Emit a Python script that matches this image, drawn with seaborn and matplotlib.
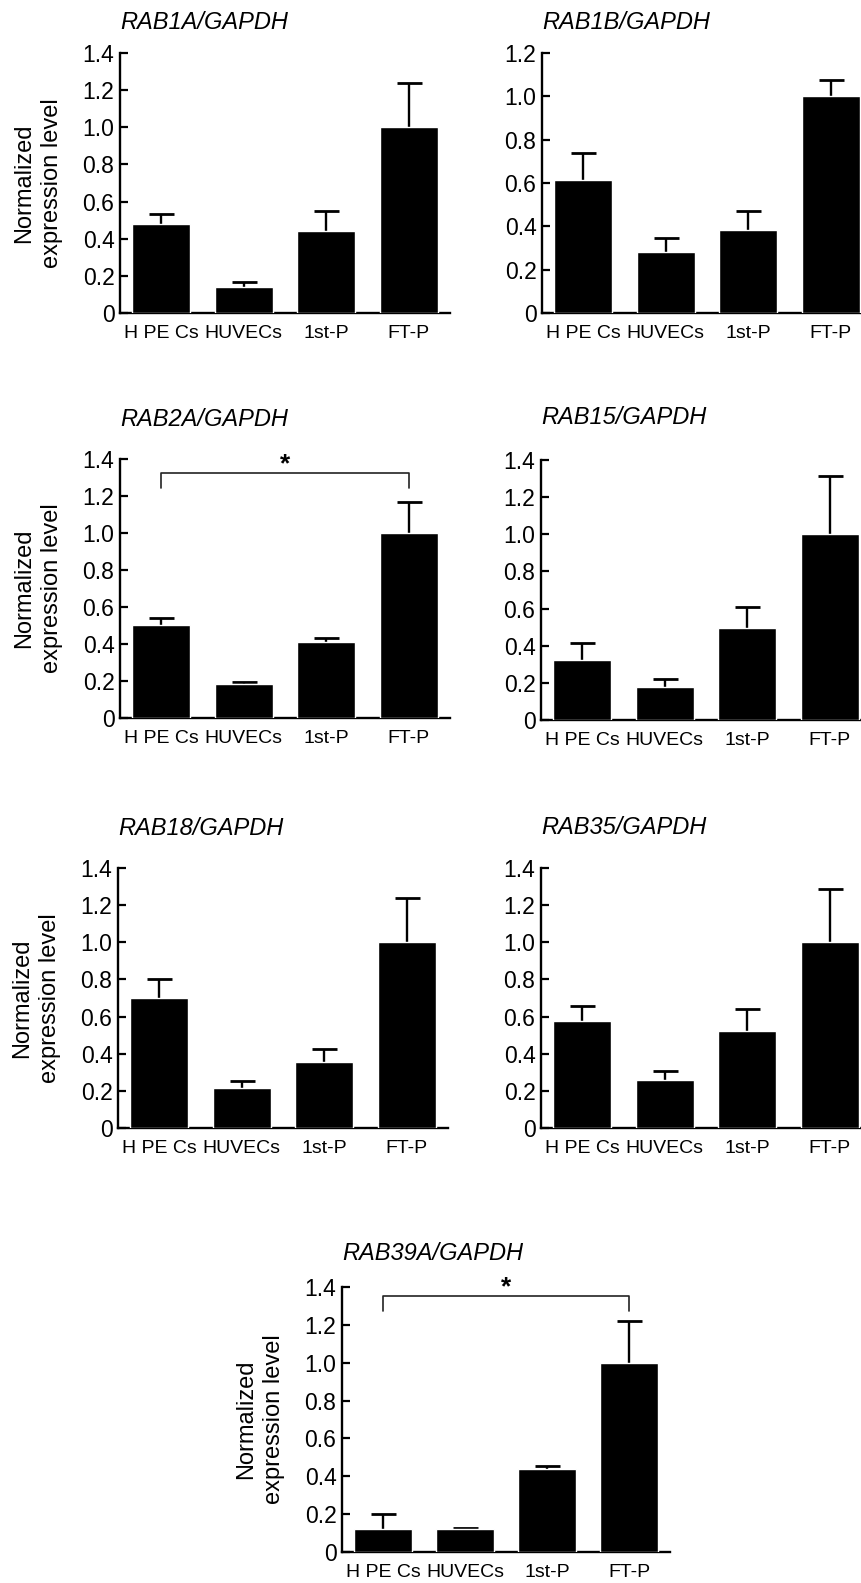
import numpy as np
import pandas as pd
import matplotlib
matplotlib.use("Agg")
import matplotlib.pyplot as plt
from matplotlib import font_manager
import seaborn as sns

# ---------------- data ----------------
cells = ["H PE Cs", "HUVECs", "1st-P", "FT-P"]

titles = ["RAB1A/GAPDH", "RAB1B/GAPDH", "RAB2A/GAPDH", "RAB15/GAPDH",
          "RAB18/GAPDH", "RAB35/GAPDH", "RAB39A/GAPDH"]

rab1a_mean = [0.48, 0.14, 0.44, 1.00]
rab1a_err = [0.055, 0.025, 0.11, 0.24]
rab1b_mean = [0.615, 0.28, 0.385, 1.00]
rab1b_err = [0.125, 0.065, 0.085, 0.075]
rab2a_mean = [0.505, 0.186, 0.41, 1.00]
rab2a_err = [0.035, 0.010, 0.020, 0.17]
rab15_mean = [0.325, 0.18, 0.495, 1.00]
rab15_err = [0.09, 0.04, 0.115, 0.315]
rab18_mean = [0.70, 0.213, 0.355, 1.00]
rab18_err = [0.10, 0.042, 0.07, 0.24]
rab35_mean = [0.575, 0.258, 0.525, 1.00]
rab35_err = [0.08, 0.049, 0.115, 0.287]
rab39a_mean = [0.12, 0.12, 0.438, 1.00]
rab39a_err = [0.083, 0.009, 0.017, 0.222]

y_max = [1.4, 1.2, 1.4, 1.4, 1.4, 1.4, 1.4]
show_ylabel = [True, False, True, False, True, False, True]
# significance brackets: (panel index, from category, to category, label)
sig = [(2, 0, 3, "*"), (6, 0, 3, "*")]

means = [rab1a_mean, rab1b_mean, rab2a_mean, rab15_mean, rab18_mean, rab35_mean, rab39a_mean]
errs = [rab1a_err, rab1b_err, rab2a_err, rab15_err, rab18_err, rab35_err, rab39a_err]

# ---------------- layout (pixels) ----------------
W, H = 861, 1583
boxes = [(120, 450, 53, 313), (542, 872, 53, 313),
         (120, 450, 459, 718), (541, 871, 460, 720),
         (118, 448, 868, 1128), (541, 871, 868, 1128),
         (342, 670, 1287, 1552)]
title_off = [31, 31, 39, 42, 40, 41, 34]  # px above axes top (title centre)

sns.set_style("ticks")
names = {f.name for f in font_manager.fontManager.ttflist}
narrow = "Liberation Sans Narrow" in names
plt.rcParams["font.family"] = ["Liberation Sans", "DejaVu Sans"]
for k in ["text.color", "axes.labelcolor", "xtick.color", "ytick.color", "axes.edgecolor"]:
    plt.rcParams[k] = "black"
xfont = ["Liberation Sans Narrow", "Liberation Sans"] if narrow else ["Liberation Sans"]
xsize = 16.5 if narrow else 14.0

fig = plt.figure(figsize=(W / 100, H / 100), dpi=100)

for i in range(7):
    x0, x1, y0, y1 = boxes[i]
    ax = fig.add_axes([x0 / W, 1 - y1 / H, (x1 - x0) / W, (y1 - y0) / H])
    df = pd.DataFrame({"cell": cells, "value": means[i]})
    sns.barplot(data=df, x="cell", y="value", order=cells, color="black",
                saturation=1, width=0.70, errorbar=None, ax=ax, zorder=3)
    xs = np.arange(len(cells))
    _, caps, _ = ax.errorbar(xs, means[i], yerr=[np.zeros(len(cells)), errs[i]],
                             fmt="none", ecolor="black", elinewidth=1.7, capsize=9,
                             capthick=2.0, zorder=2, clip_on=False)
    caps[0].set_visible(False)  # only upper caps
    ax.set_xlim(-0.5, 3.5)
    ax.set_ylim(0, y_max[i])
    ticks = np.round(np.arange(0, y_max[i] + 0.001, 0.2), 1)
    ax.set_yticks(ticks)
    ax.set_yticklabels(["0" if t == 0 else f"{t:.1f}" for t in ticks])
    ax.tick_params(axis="y", direction="in", length=5.5, width=1.6, pad=4,
                   labelsize=16.5)
    ax.tick_params(axis="x", length=0, pad=8.5)
    for lab in ax.get_xticklabels():
        lab.set_family(xfont)
        lab.set_fontsize(xsize)
    for s in ["top", "right"]:
        ax.spines[s].set_visible(False)
    for s in ["left", "bottom"]:
        ax.spines[s].set_linewidth(1.7)
        ax.spines[s].set_color("black")
    ax.set_xlabel("")
    ax.set_ylabel("")
    if show_ylabel[i]:
        ax.text(-82 / (x1 - x0), 0.5, "Normalized\nexpression level",
                transform=ax.transAxes, rotation=90, ha="center", va="center",
                multialignment="center", fontsize=17, linespacing=1.35)
    ax.annotate(titles[i], xy=(0, 1), xycoords="axes fraction",
                xytext=(0, title_off[i] * 0.72), textcoords="offset points",
                ha="left", va="center", fontsize=17, style="italic")

    for (pi, a, b, label) in sig:
        if pi == i:
            top = 1.325 if i == 2 else 1.355
            drop = 0.08
            ax.plot([a, a, b, b], [top - drop, top, top, top - drop],
                    color="#222222", lw=1.2, clip_on=False, zorder=4)
            ax.text((a + b) / 2, top - 0.02, label, ha="center", va="bottom",
                    fontsize=19, fontweight="bold")

fig.savefig("out.png", dpi=100)
